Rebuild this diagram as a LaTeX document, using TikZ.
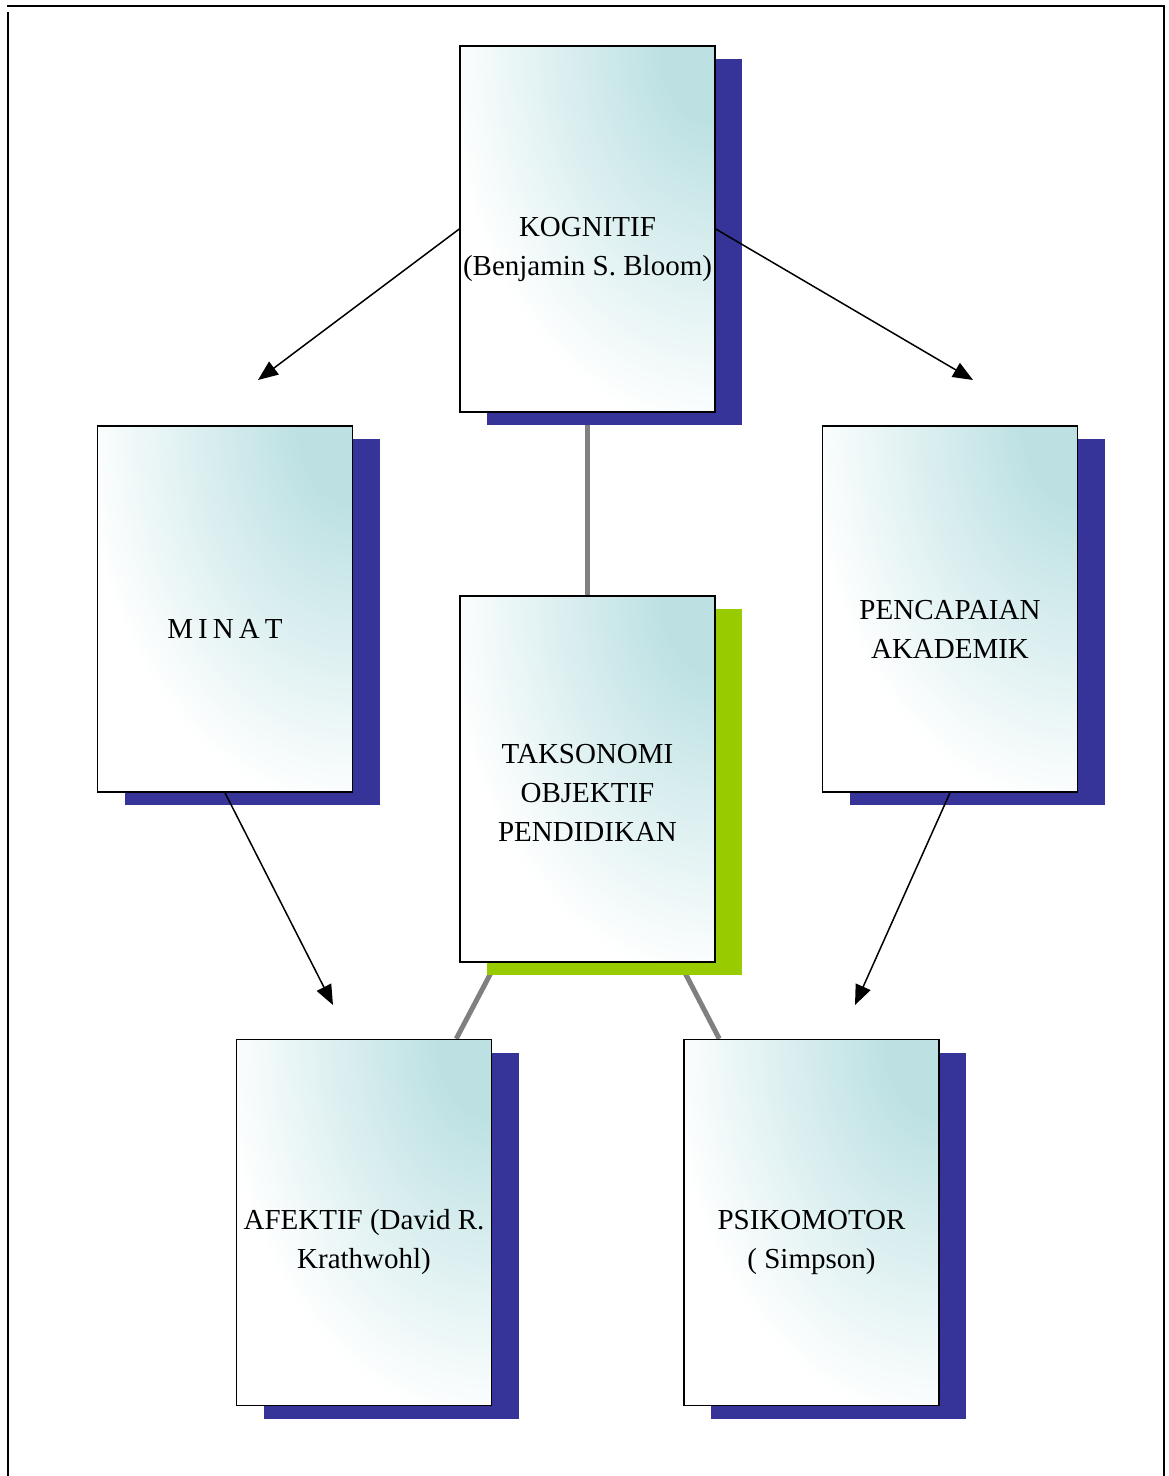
\documentclass[tikz,border=0pt]{standalone}
\usepackage{fontspec}
\setmainfont{Liberation Serif}
\usepackage{xcolor}
\usepackage{tikz}
\usetikzlibrary{shadows,arrows.meta,backgrounds}
\definecolor{boxteal}{RGB}{189,225,227}
\definecolor{shadeblue}{RGB}{54,51,153}
\definecolor{shadegreen}{RGB}{153,204,0}
\definecolor{linkgray}{RGB}{128,128,128}
\pgfdeclareradialshading{cornerteal}{\pgfpoint{0bp}{0bp}}{color(0bp)=(boxteal); color(5bp)=(boxteal); color(25bp)=(white); color(50bp)=(white)}

\begin{document}
\begin{tikzpicture}[x=1pt,y=-1pt]
        \tikzstyle{every node}+=[inner sep=0pt]
        \tikzstyle{frame}=[black, line width=2pt]
        \tikzstyle{box}=[draw=black, line width=1.5pt, minimum width=255pt, minimum height=366pt, fill=white, path picture={\shade[shading=cornerteal] (path picture bounding box.north east) ellipse (270pt and 385pt);}, general shadow={fill=#1, shadow xshift=27pt, shadow yshift=-13pt}]
        \tikzstyle{txt}=[align=center, yshift=-20pt, font=\fontsize{29}{39}\selectfont]
        \tikzstyle{arr}=[black, line width=1.5pt, -{Triangle[length=20pt,width=16pt]}]
        \tikzstyle{link}=[linkgray, line width=5pt]
        \useasboundingbox (0,0) rectangle (1169,1476);
        \draw [frame] (7,6) -- (1165,6);
        \draw [frame] (8,12) -- (8,1476);
        \draw [frame] (1164,6) -- (1164,1476);
        \node [box=shadeblue, label={[txt]center:KOGNITIF\\(Benjamin S. Bloom)}] (kognitif) at (587.5,229) {};
        \node [box=shadeblue, label={[txt]center:M\kern5pt I\kern5pt N\kern5pt A\kern5pt T}] (minat) at (225,609) {};
        \node [box=shadeblue, label={[txt]center:PENCAPAIAN\\AKADEMIK}] (pencapaian) at (950,609) {};
        \node [box=shadegreen, label={[txt,yshift=6pt]center:TAKSONOMI\\OBJEKTIF\\PENDIDIKAN}] (taksonomi) at (587.5,779) {};
        \node [box=shadeblue, label={[txt]center:AFEKTIF (David R.\\Krathwohl)}] (afektif) at (364,1222.5) {};
        \node [box=shadeblue, label={[txt]center:PSIKOMOTOR\\( Simpson)}] (psikomotor) at (811.5,1222.5) {};
        \coordinate (minattip) at (258,380);
        \coordinate (akademiktip) at (973,380);
        \coordinate (afektiftip) at (333,1005);
        \coordinate (psikotip) at (855,1005);
        \draw [arr] (kognitif.west) -- (minattip);
        \draw [arr] (kognitif.east) -- (akademiktip);
        \draw [arr] (minat.south) -- (afektiftip);
        \draw [arr] (pencapaian.south) -- (psikotip);
        \begin{scope}[on background layer]
        \draw [link] (kognitif.south) -- (taksonomi.north);
        \draw [link] ([xshift=37pt]taksonomi.south west) -- ([xshift=-36pt]afektif.north east);
        \draw [link] ([xshift=-36pt]taksonomi.south east) -- ([xshift=36pt]psikomotor.north west);
        \end{scope}
    \end{tikzpicture}
\end{document}
